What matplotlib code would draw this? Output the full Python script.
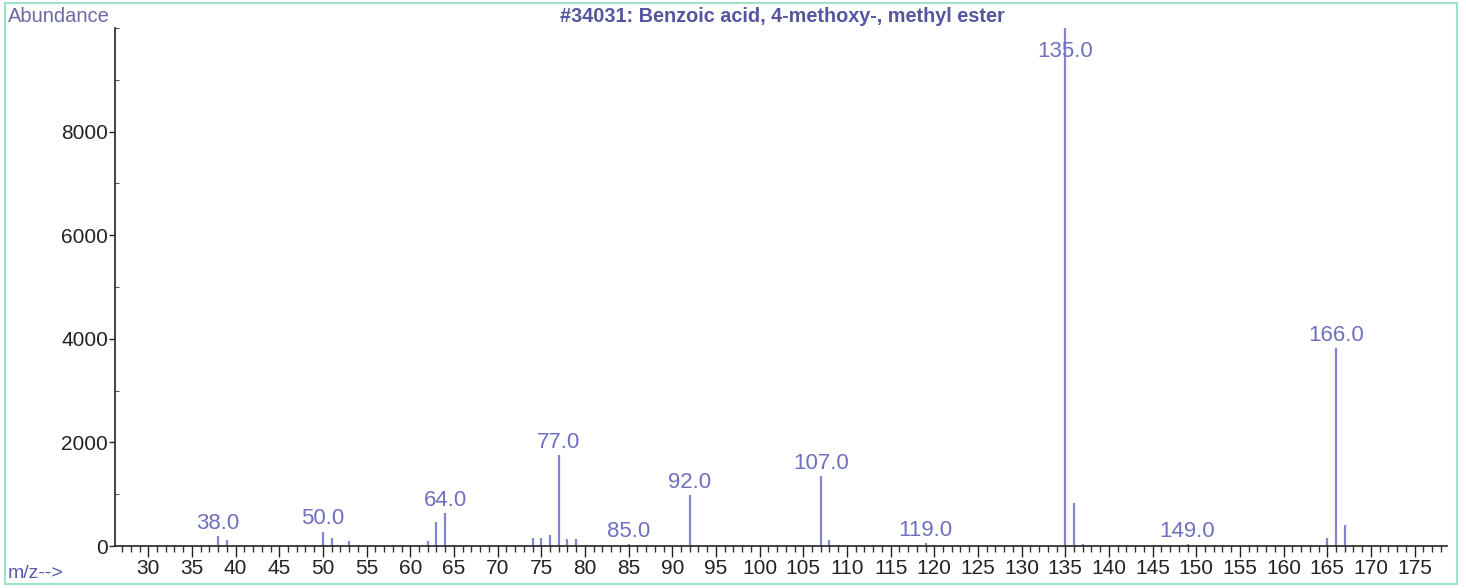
import numpy as np
import matplotlib.pyplot as plt
from matplotlib.patches import Rectangle
from matplotlib.ticker import MultipleLocator

plt.rcParams['font.family'] = ['Liberation Sans', 'DejaVu Sans']

# mass spectrum
mz = [38, 39, 50, 51, 53, 62, 63, 64, 74, 75, 76, 77, 78, 79, 85, 92, 107, 108,
      119, 135, 136, 137, 149, 165, 166, 167]
abundance = [200, 120, 280, 160, 100, 100, 460, 640, 150, 150, 220, 1750, 135, 135,
             40, 980, 1350, 120, 60, 9999, 840, 40, 30, 150, 3830, 400]
labelled = [38, 50, 64, 77, 85, 92, 107, 119, 135, 149, 166]

title = '#34031: Benzoic acid, 4-methoxy-, methyl ester'
peak_col = '#8484d4'
text_col = '#6f6fbf'

fig = plt.figure(figsize=(14.66, 5.88), dpi=100)
ax = fig.add_axes([0.0785, 0.0714, 0.9085, 0.881])

ax.vlines(mz, 0, abundance, color=peak_col, lw=1.6)

lookup = dict(zip(mz, abundance))
for m in labelled:
    y = min(lookup[m], 9300)
    ax.annotate(f'{m:.1f}', (m, y), xytext=(0, 1.5), textcoords='offset points',
                ha='center', va='bottom', fontsize=16, color=text_col)

ax.set_xlim(26.2, 178.7)
ax.set_ylim(0, 10000)
ax.set_xticks(np.arange(30, 176, 5))
ax.xaxis.set_minor_locator(MultipleLocator(1))
ax.set_yticks([0, 2000, 4000, 6000, 8000])
ax.yaxis.set_minor_locator(MultipleLocator(1000))
ax.tick_params(axis='x', which='major', direction='out', length=8, width=1,
               labelsize=15, pad=1, colors='#222222')
ax.tick_params(axis='x', which='minor', direction='out', length=4.5, width=1,
               colors='#333333')
ax.tick_params(axis='y', which='major', direction='out', length=4, width=1,
               labelsize=15, pad=1, colors='#222222')
ax.tick_params(axis='y', which='minor', direction='in', length=3, width=0.8,
               colors='#555555')
for s in ['top', 'right']:
    ax.spines[s].set_visible(False)
for s in ['left', 'bottom']:
    ax.spines[s].set_color('#222222')
    ax.spines[s].set_linewidth(1.2)

fig.text(8 / 1466, 1 - 17 / 588, 'Abundance', ha='left', va='center',
         fontsize=14.5, color='#6a6aa8')
fig.text(782 / 1466, 1 - 17 / 588, title, ha='center', va='center',
         fontsize=14.3, color='#5555a0', fontweight='bold')
fig.text(8 / 1466, 1 - 573 / 588, 'm/z-->', ha='left', va='center',
         fontsize=14, color='#5a5ab0')

fig.patches.append(Rectangle((5 / 1466, 1 - 584 / 588), 1452 / 1466, 581 / 588,
                             transform=fig.transFigure, fill=False,
                             edgecolor='#9fe3c6', lw=1.5))

fig.savefig('out.png', dpi=100)
